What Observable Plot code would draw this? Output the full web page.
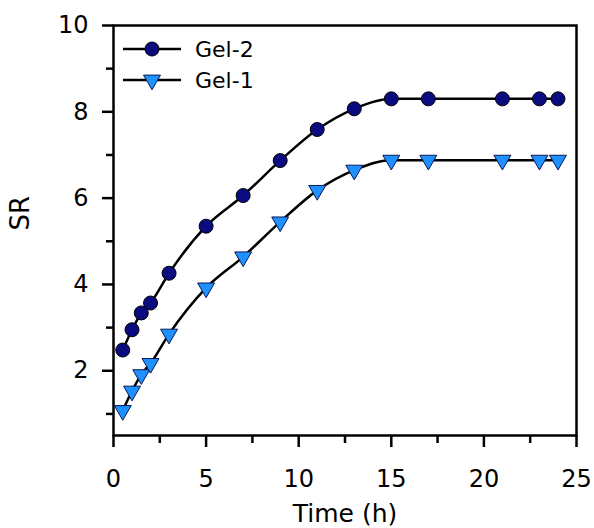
<!DOCTYPE html>
<html>
<head>
<meta charset="utf-8">
<script src="https://cdn.jsdelivr.net/npm/d3@7"></script>
<script src="https://cdn.jsdelivr.net/npm/@observablehq/plot@0.6"></script>
<style>
  html, body { margin: 0; padding: 0; background: #fff; }
  #wrap { position: relative; width: 594px; height: 528px; }
  #legend { position: absolute; left: 0; top: 0; }
</style>
</head>
<body>
<div id="wrap"></div>
<script>
// ---- data ----
const time = [0.5, 1, 1.5, 2, 3, 5, 7, 9, 11, 13, 15, 17, 21, 23, 24];
const gel2 = [2.48, 2.95, 3.34, 3.57, 4.26, 5.35, 6.06, 6.87, 7.59, 8.07, 8.30, 8.30, 8.30, 8.30, 8.30];
const gel1 = [1.08, 1.53, 1.91, 2.17, 2.85, 3.92, 4.64, 5.45, 6.18, 6.65, 6.88, 6.88, 6.88, 6.88, 6.88];
const seriesNames = ["Gel-2", "Gel-1"];
const xMajorTicks = [0, 5, 10, 15, 20, 25];
const xMinorTicks = [2.5, 7.5, 12.5, 17.5, 22.5];
const yMajorTicks = [2, 4, 6, 8, 10];
const yMinorTicks = [1, 3, 5, 7, 9];
const xLabel = "Time (h)";
const yLabel = "SR";

const rows2 = time.map((t, i) => ({t, v: gel2[i]}));
const rows1 = time.map((t, i) => ({t, v: gel1[i]}));

const FONT = "DejaVu Sans, Liberation Sans, Arial, sans-serif";
const navy = "#0b0b80";
const sky = "#1e90ff";

const chart = Plot.plot({
  width: 594,
  height: 528,
  marginLeft: 113,
  marginRight: 18,
  marginTop: 25,
  marginBottom: 93,
  style: {fontFamily: FONT, background: "#fff", color: "#000"},
  x: {domain: [0, 25]},
  y: {domain: [0.5, 10]},
  marks: [
    Plot.axisX(xMajorTicks, {tickSize: 12, tickPadding: 22, fontSize: 24, strokeWidth: 2.5, label: null, tickFormat: d => String(d)}),
    Plot.axisX(xMinorTicks, {tickSize: 8, text: null, strokeWidth: 2.5, label: null}),
    Plot.axisY(yMajorTicks, {tickSize: 11, tickPadding: 14, fontSize: 24, strokeWidth: 2.5, label: null, tickFormat: d => String(d)}),
    Plot.axisY(yMinorTicks, {tickSize: 7, text: null, strokeWidth: 2.5, label: null}),
    Plot.frame({stroke: "#000", strokeWidth: 2.5}),
    Plot.text([xLabel], {text: d => d, frameAnchor: "bottom", dy: 86, fontSize: 25, fill: "#000"}),
    Plot.text([yLabel], {text: d => d, frameAnchor: "left", dx: -93, rotate: -90, fontSize: 26, fill: "#000"}),
    Plot.line(rows2, {x: "t", y: "v", stroke: "#000", strokeWidth: 2.5, curve: "monotone-x"}),
    Plot.line(rows1, {x: "t", y: "v", stroke: "#000", strokeWidth: 2.5, curve: "monotone-x"}),
    Plot.dot(rows2, {x: "t", y: "v", symbol: "circle", r: 7, fill: navy, stroke: "#000", strokeWidth: 1}),
    Plot.dot(rows1, {x: "t", y: "v", symbol: "triangle", r: 6.3, rotate: 180, fill: sky, stroke: "#0a1a50", strokeWidth: 1})
  ]
});

const wrap = document.getElementById("wrap");
wrap.appendChild(chart);

// ---- legend overlay ----
const ns = "http://www.w3.org/2000/svg";
const leg = document.createElementNS(ns, "svg");
leg.setAttribute("id", "legend");
leg.setAttribute("width", 300);
leg.setAttribute("height", 110);
const rowsY = [49, 80];
seriesNames.forEach((name, i) => {
  const y = rowsY[i];
  const ln = document.createElementNS(ns, "line");
  ln.setAttribute("x1", 123); ln.setAttribute("x2", 181);
  ln.setAttribute("y1", y); ln.setAttribute("y2", y);
  ln.setAttribute("stroke", "#000"); ln.setAttribute("stroke-width", 2.5);
  leg.appendChild(ln);
  if (i === 0) {
    const c = document.createElementNS(ns, "circle");
    c.setAttribute("cx", 152); c.setAttribute("cy", y); c.setAttribute("r", 7);
    c.setAttribute("fill", navy); c.setAttribute("stroke", "#000"); c.setAttribute("stroke-width", 1);
    leg.appendChild(c);
  } else {
    const p = document.createElementNS(ns, "path");
    p.setAttribute("d", d3.symbol(d3.symbolTriangle, Math.PI * 6.3 * 6.3)());
    p.setAttribute("transform", `translate(152,${y}) rotate(180)`);
    p.setAttribute("fill", sky); p.setAttribute("stroke", "#0a1a50"); p.setAttribute("stroke-width", 1);
    leg.appendChild(p);
  }
  const tx = document.createElementNS(ns, "text");
  tx.setAttribute("x", 195); tx.setAttribute("y", y);
  tx.setAttribute("dy", "0.36em");
  tx.setAttribute("font-family", FONT);
  tx.setAttribute("font-size", 22);
  tx.setAttribute("fill", "#000");
  tx.textContent = name;
  leg.appendChild(tx);
});
wrap.appendChild(leg);
</script>
</body>
</html>
